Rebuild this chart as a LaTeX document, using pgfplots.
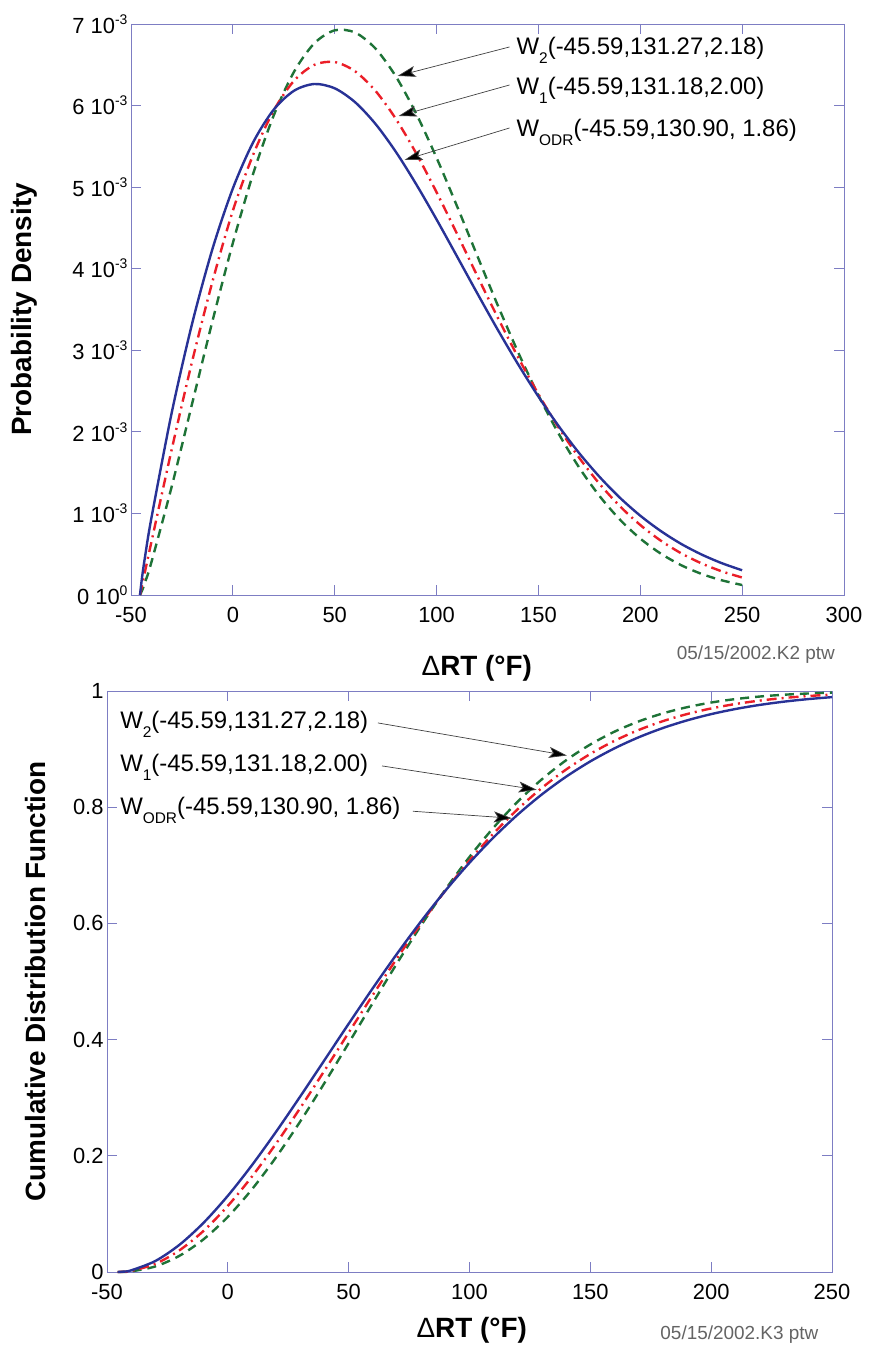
\documentclass[border=0pt]{standalone}
\usepackage{fontspec}
\setmainfont{Liberation Sans}
\usepackage{pgfplots}
\pgfplotsset{compat=1.18}
\usepackage{pgfplotstable}
\usetikzlibrary{arrows.meta}

\definecolor{cblue}{RGB}{40,50,150}
\definecolor{cred}{RGB}{235,30,40}
\definecolor{cgreen}{RGB}{30,115,55}
\definecolor{cframe}{RGB}{125,125,195}
\definecolor{cfoot}{RGB}{100,100,100}

\newcommand{\sub}[1]{\raisebox{-9bp}{\fontsize{15.5}{15.5}\selectfont #1}}
\newcommand{\spx}[1]{\raisebox{9bp}{\fontsize{14}{14}\selectfont #1}}

\pgfplotstableread{
x odr w1 w2
-45.59 0 0 0
-44.5 0.000231 0.000127 0.0000582
-43 0.000487 0.000301 0.000162
-40 0.000941 0.000648 0.000400
-30 0.002236 0.001786 0.001331
-20 0.003327 0.002863 0.002345
-10 0.004243 0.003843 0.003359
0 0.004984 0.004711 0.004315
10 0.005551 0.005399 0.005167
20 0.005948 0.005937 0.005875
30 0.006181 0.006303 0.006413
40 0.006264 0.006499 0.006763
50 0.006211 0.006533 0.006922
60 0.006041 0.006420 0.006895
70 0.005775 0.006180 0.006699
80 0.005433 0.005837 0.006357
90 0.005035 0.005414 0.005900
100 0.004603 0.004937 0.005359
110 0.004152 0.004429 0.004768
120 0.003697 0.003911 0.004157
130 0.003253 0.003402 0.003553
140 0.002829 0.002915 0.002977
150 0.002432 0.002461 0.002448
160 0.002068 0.002049 0.001974
170 0.001739 0.001682 0.001562
180 0.001448 0.001362 0.001213
190 0.001192 0.001088 0.000924
200 0.000972 0.000858 0.000691
210 0.000785 0.000667 0.000508
220 0.000627 0.000512 0.000366
230 0.000497 0.000388 0.000259
240 0.000390 0.000290 0.000180
250 0.000303 0.000214 0.000122
}\pdftable

\pgfplotstableread{
x odr w1 w2
-45.59 0 0 0
-43 0.000678 0.000390 0.000192
-40 0.002832 0.001814 0.001027
-30 0.018926 0.014025 0.009566
-20 0.046894 0.037339 0.027916
-10 0.084887 0.070963 0.056459
0 0.131165 0.113774 0.094900
10 0.183985 0.164379 0.142416
20 0.241622 0.221199 0.197759
30 0.302401 0.282543 0.259351
40 0.364747 0.346692 0.325392
50 0.427225 0.411980 0.393978
60 0.488572 0.476859 0.463212
70 0.547722 0.539957 0.531312
80 0.603813 0.600119 0.596699
90 0.656190 0.656431 0.658066
100 0.704403 0.708223 0.714416
110 0.748181 0.755071 0.765078
120 0.787422 0.796772 0.809705
130 0.822161 0.833322 0.848235
140 0.852551 0.864879 0.880853
150 0.878830 0.891727 0.907935
160 0.901300 0.914242 0.929993
170 0.920304 0.932860 0.947620
180 0.936208 0.948044 0.961444
190 0.949377 0.960259 0.972083
200 0.960172 0.969953 0.980118
210 0.968932 0.977545 0.986076
220 0.975969 0.983412 0.990410
230 0.981570 0.987889 0.993507
240 0.985984 0.991259 0.995678
250 0.989429 0.993764 0.997172
}\cdftable

\pgfplotsset{
  mystyle/.style={
    scale only axis,
    axis line style={cframe, line width=0.8bp},
    every tick/.style={cframe, line width=0.8bp},
    major tick length=10bp,
    tick align=inside,
    xtick pos=both, ytick pos=both,
    xticklabel pos=lower, yticklabel pos=left,
    tick label style={font=\fontsize{22}{22}\selectfont, text=black},
    xticklabel style={yshift=-9bp},
    label style={font=\fontsize{28}{28}\selectfont\bfseries},
    scaled y ticks=false,
    clip=false,
  },
}
\tikzset{
  odrline/.style={cblue, line width=2.4bp, smooth},
  w1line/.style={cred, line width=2.4bp, smooth, dash pattern=on 10bp off 5bp on 2bp off 5bp},
  w2line/.style={cgreen, line width=2.4bp, smooth, dash pattern=on 9bp off 6bp},
  annot/.style={font=\fontsize{24}{24}\selectfont, anchor=base west, inner sep=0pt},
  arr/.style={black!75, line width=0.7bp, -{Stealth[length=18bp, width=11bp, inset=4bp, fill=black]}},
}

\begin{document}
\begin{tikzpicture}[x=1bp, y=1bp]
\useasboundingbox (0,0) rectangle (870,1357);

% ---------------- top: PDF ----------------
\begin{axis}[mystyle,
  at={(131bp,762bp)}, anchor=south west,
  width=713bp, height=571bp,
  xmin=-50, xmax=300, ymin=0, ymax=0.007,
  xtick={-50,0,50,100,150,200,250,300},
  xticklabels={-50,0,50,100,150,200,250,300},
  ytick={0,0.001,0.002,0.003,0.004,0.005,0.006,0.007},
  yticklabels={0 10\spx{0},1 10\spx{-3},2 10\spx{-3},3 10\spx{-3},4 10\spx{-3},5 10\spx{-3},6 10\spx{-3},7 10\spx{-3}},
  xlabel={{\mdseries Δ}RT (°F)},
  ylabel={Probability Density},
  xlabel style={at={(axis description cs:0.485,-0.128)}, anchor=center},
  ylabel style={at={(axis description cs:-0.149,0.5)}, anchor=center},
]
\addplot[w2line] table[x=x, y=w2] {\pdftable};
\addplot[w1line] table[x=x, y=w1] {\pdftable};
\addplot[odrline] table[x=x, y=odr] {\pdftable};

\node[annot] at (axis cs:139.2,0.006620) {W\sub{2}(-45.59,131.27,2.18)};
\node[annot] at (axis cs:139.2,0.006130) {W\sub{1}(-45.59,131.18,2.00)};
\node[annot] at (axis cs:139.2,0.005615) {W\sub{ODR}(-45.59,130.90, 1.86)};
\draw[arr] (axis cs:135.8,0.006718) -- (axis cs:80.9,0.006363);
\draw[arr] (axis cs:135.8,0.006252) -- (axis cs:81.4,0.005872);
\draw[arr] (axis cs:135.8,0.005725) -- (axis cs:84.3,0.005333);

\node[font=\fontsize{19}{19}\selectfont, text=cfoot, anchor=east]
  at (axis description cs:0.992,-0.105) {05/15/2002.K2 ptw};
\end{axis}

% ---------------- bottom: CDF ----------------
\begin{axis}[mystyle,
  at={(107bp,85bp)}, anchor=south west,
  width=725bp, height=581bp,
  xmin=-50, xmax=250, ymin=0, ymax=1,
  xtick={-50,0,50,100,150,200,250},
  xticklabels={-50,0,50,100,150,200,250},
  ytick={0,0.2,0.4,0.6,0.8,1},
  yticklabels={0,0.2,0.4,0.6,0.8,1},
  xlabel={{\mdseries Δ}RT (°F)},
  ylabel={Cumulative Distribution Function},
  xlabel style={at={(axis description cs:0.503,-0.10)}, anchor=center},
  ylabel style={at={(axis description cs:-0.098,0.5)}, anchor=center},
]
\addplot[w2line] table[x=x, y=w2] {\cdftable};
\addplot[w1line] table[x=x, y=w1] {\cdftable};
\addplot[odrline] table[x=x, y=odr] {\cdftable};

\node[annot] at (axis cs:-44.6,0.936) {W\sub{2}(-45.59,131.27,2.18)};
\node[annot] at (axis cs:-44.6,0.861) {W\sub{1}(-45.59,131.18,2.00)};
\node[annot] at (axis cs:-44.6,0.787) {W\sub{ODR}(-45.59,130.90, 1.86)};
\draw[arr] (axis cs:62.1,0.945) -- (axis cs:140.3,0.889);
\draw[arr] (axis cs:63.8,0.871) -- (axis cs:127.8,0.830);
\draw[arr] (axis cs:76.6,0.793) -- (axis cs:117.5,0.781);

\node[font=\fontsize{19}{19}\selectfont, text=cfoot, anchor=east]
  at (axis description cs:0.986,-0.107) {05/15/2002.K3 ptw};
\end{axis}
\end{tikzpicture}
\end{document}
